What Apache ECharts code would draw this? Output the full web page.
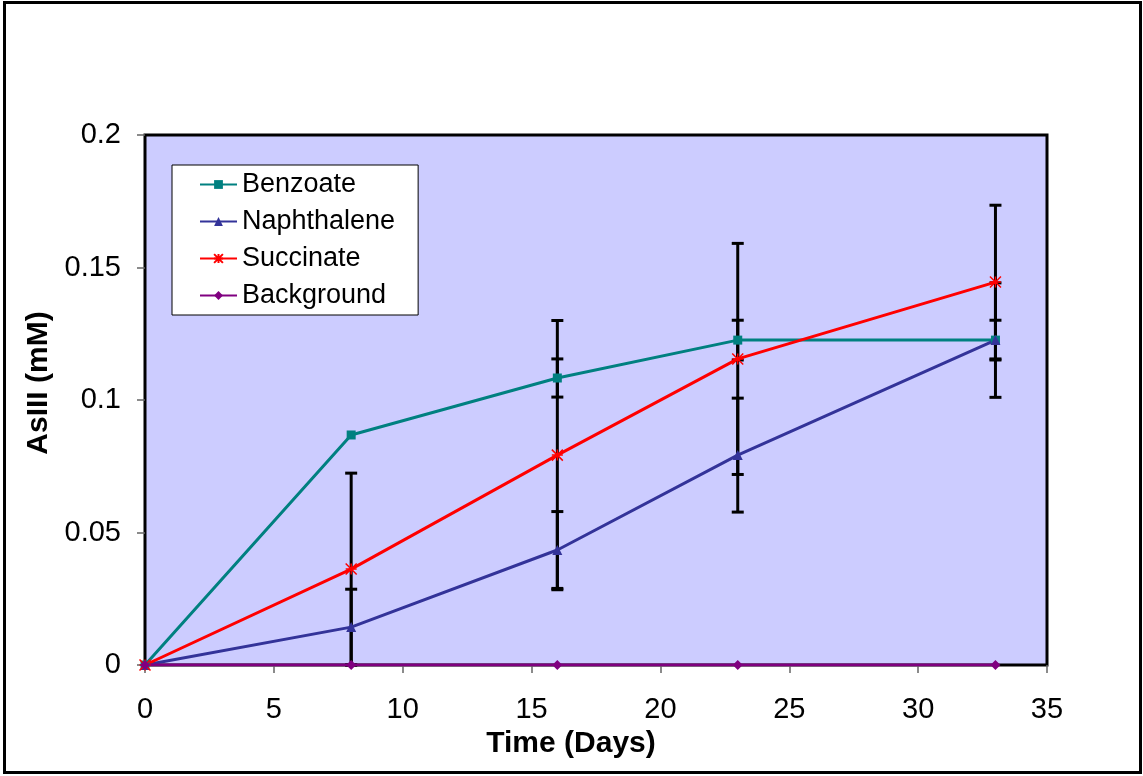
<!DOCTYPE html>
<html>
<head>
<meta charset="utf-8">
<script src="https://cdn.jsdelivr.net/npm/echarts@6/dist/echarts.min.js"></script>
<style>
  html, body { margin: 0; padding: 0; background: #fff; }
  #chart { width: 1143px; height: 776px; }
</style>
</head>
<body>
<div id="chart"></div>
<script>
const days = [0, 8, 16, 23, 33]
const benzoate = [0, 0.0868, 0.1083, 0.1226, 0.1226]
const benzoateErr = [0, 0, 0.0072, 0.0075, 0.0075]
const naphthalene = [0, 0.0143, 0.0434, 0.0792, 0.1226]
const naphthaleneErr = [0, 0.0143, 0.0145, 0.0215, 0.0216]
const succinate = [0, 0.0362, 0.0792, 0.1155, 0.1445]
const succinateErr = [0, 0.0362, 0.0508, 0.0436, 0.029]
const background = [0, 0, 0, 0, 0]

const font = '"Liberation Sans", Arial, sans-serif'
const asterisk = 'path://M0,0L10,10M10,0L0,10M5,0L5,10M0,5L10,5'

function pairs(ys) {
  return days.map((d, i) => [d, ys[i]])
}

function errData(ys, errs) {
  return days.map((d, i) => [d, ys[i], errs[i]])
}

// vertical error bar with caps, drawn through the axes
function renderErr(params, api) {
  const x = api.value(0)
  const y = api.value(1)
  const e = api.value(2)
  if (!e) return null
  const top = api.coord([x, y + e])
  const bot = api.coord([x, y - e])
  const style = { stroke: '#000', lineWidth: 3 }
  const w = 6
  return {
    type: 'group',
    children: [
      { type: 'line', shape: { x1: top[0], y1: top[1], x2: bot[0], y2: bot[1] }, style },
      { type: 'line', shape: { x1: top[0] - w, y1: top[1], x2: top[0] + w, y2: top[1] }, style },
      { type: 'line', shape: { x1: bot[0] - w, y1: bot[1], x2: bot[0] + w, y2: bot[1] }, style }
    ]
  }
}

function errSeries(ys, errs) {
  return {
    type: 'custom',
    renderItem: renderErr,
    data: errData(ys, errs),
    encode: { x: 0, y: 1 },
    z: 1,
    silent: true
  }
}

const chart = echarts.init(document.getElementById('chart'))
chart.setOption({
  animation: false,
  textStyle: { fontFamily: font },
  graphic: [
    {
      type: 'rect',
      shape: { x: 4.5, y: 2.5, width: 1136, height: 770 },
      style: { fill: 'none', stroke: '#000', lineWidth: 3 },
      z: 100
    }
  ],
  grid: {
    left: 145,
    right: 96,
    top: 135,
    bottom: 111,
    show: true,
    backgroundColor: '#CCCCFF',
    borderColor: '#000',
    borderWidth: 3
  },
  legend: {
    orient: 'vertical',
    left: 172,
    top: 165,
    padding: [6, 23, 6, 27],
    itemGap: 10,
    itemWidth: 37,
    itemHeight: 11,
    backgroundColor: '#fff',
    borderColor: '#000',
    borderWidth: 1,
    borderRadius: 0,
    textStyle: { fontFamily: font, fontSize: 27, color: '#000' },
    data: ['Benzoate', 'Naphthalene', 'Succinate', 'Background']
  },
  xAxis: {
    type: 'value',
    min: 0,
    max: 35,
    interval: 5,
    name: 'Time (Days)',
    nameLocation: 'middle',
    nameGap: 60,
    nameTextStyle: { fontFamily: font, fontSize: 30, fontWeight: 'bold', color: '#000', padding: [0, 50, 0, 0] },
    axisLine: { show: false },
    axisTick: { show: true, length: 8, lineStyle: { color: '#666', width: 1.5 } },
    axisLabel: { fontFamily: font, fontSize: 29, color: '#000', margin: 30 },
    splitLine: { show: false }
  },
  yAxis: {
    type: 'value',
    min: 0,
    max: 0.2,
    interval: 0.05,
    name: 'AsIII (mM)',
    nameLocation: 'middle',
    nameGap: 90,
    nameTextStyle: { fontFamily: font, fontSize: 30, fontWeight: 'bold', color: '#000', padding: [0, 0, 0, 34] },
    axisLine: { show: false },
    axisTick: { show: true, length: 8, lineStyle: { color: '#666', width: 1.5 } },
    axisLabel: { fontFamily: font, fontSize: 29, color: '#000', margin: 24 },
    splitLine: { show: false }
  },
  series: [
    errSeries(benzoate, benzoateErr),
    errSeries(naphthalene, naphthaleneErr),
    errSeries(succinate, succinateErr),
    {
      name: 'Benzoate',
      type: 'line',
      data: pairs(benzoate),
      symbol: 'rect',
      symbolSize: 9,
      color: '#008080',
      lineStyle: { width: 3, color: '#008080' },
      itemStyle: { color: '#008080' },
      z: 3
    },
    {
      name: 'Naphthalene',
      type: 'line',
      data: pairs(naphthalene),
      symbol: 'triangle',
      symbolSize: 10,
      color: '#333399',
      lineStyle: { width: 3, color: '#333399' },
      itemStyle: { color: '#333399' },
      z: 3
    },
    {
      name: 'Succinate',
      type: 'line',
      data: pairs(succinate),
      symbol: asterisk,
      symbolSize: 11,
      color: '#FF0000',
      lineStyle: { width: 3, color: '#FF0000' },
      itemStyle: { color: '#FF0000', borderColor: '#FF0000', borderWidth: 1.5 },
      z: 3
    },
    {
      name: 'Background',
      type: 'line',
      data: pairs(background),
      symbol: 'diamond',
      symbolSize: 10,
      color: '#800080',
      lineStyle: { width: 3, color: '#800080' },
      itemStyle: { color: '#800080' },
      z: 3
    }
  ]
})
</script>
</body>
</html>
